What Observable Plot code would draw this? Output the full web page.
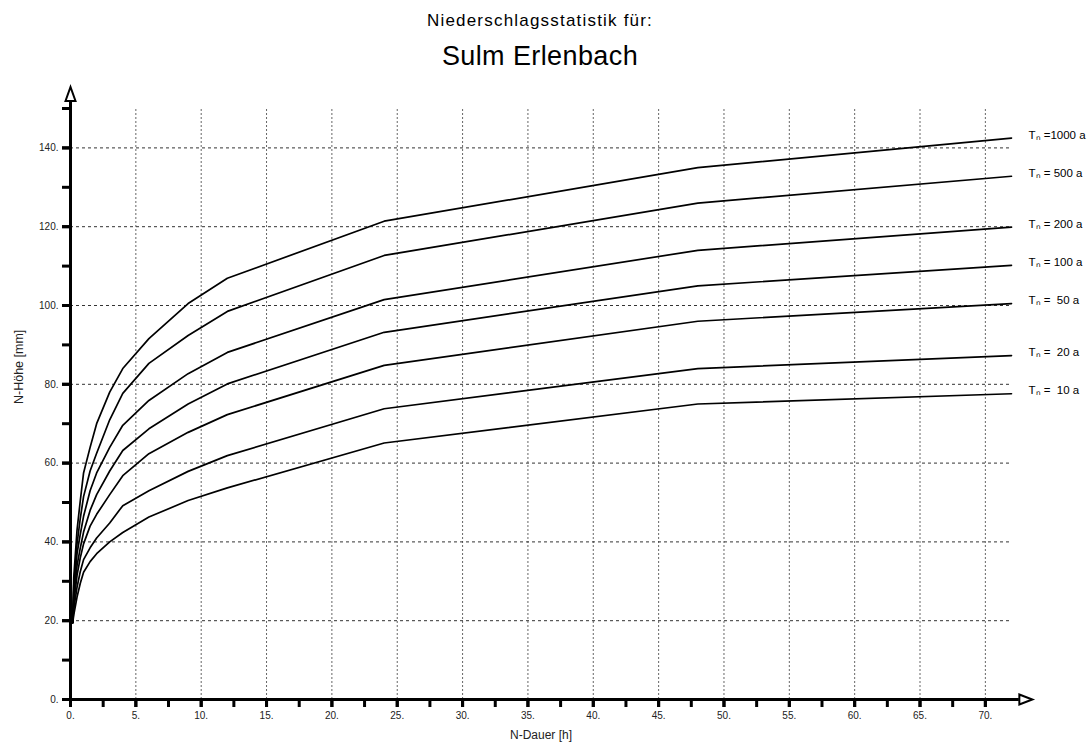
<!DOCTYPE html>
<html>
<head>
<meta charset="utf-8">
<script src="https://cdn.jsdelivr.net/npm/d3@7"></script>
<script src="https://cdn.jsdelivr.net/npm/@observablehq/plot@0.6"></script>
<style>
  html, body { margin: 0; padding: 0; background: white; }
  body { width: 1091px; height: 742px; position: relative; overflow: hidden; font-family: "Liberation Sans", Arial, sans-serif; }
  .t1 { position: absolute; top: 12px; left: 0; width: 1080px; text-align: center; font-size: 17px; line-height: 17px; letter-spacing: 1.2px; color: #000; }
  .t2 { position: absolute; top: 43px; left: 0; width: 1080px; text-align: center; font-size: 27px; line-height: 27px; letter-spacing: 0.4px; color: #000; }
  #chart { position: absolute; top: 80px; left: 0; }
  #chart svg text { white-space: pre; }
</style>
</head>
<body>
<div class="t1">Niederschlagsstatistik für:</div>
<div class="t2">Sulm Erlenbach</div>
<div id="chart"></div>
<script>
// Durations [h]
const durations = [0.17, 0.25, 0.5, 0.75, 1, 1.5, 2, 3, 4, 6, 9, 12, 24, 48, 72];
// Precipitation depth [mm] per return period
const T1000 = [19.5, 31, 43, 50.5, 57.5, 64, 70, 78, 84, 91.6, 100.5, 106.9, 121.4, 135, 142.5];
const T500  = [19.5, 29, 39.5, 46, 51.5, 58, 62.5, 71, 77.7, 85.3, 92.4, 98.5, 112.7, 126, 132.8];
const T200  = [19.5, 27.5, 37, 42, 46.5, 53, 57.5, 64, 69.6, 75.9, 82.7, 88.1, 101.5, 114, 119.9];
const T100  = [19.5, 26, 34, 38.5, 42.5, 48, 52, 58, 63.2, 68.7, 75, 80.1, 93.2, 105, 110.2];
const T50   = [19.5, 24.5, 31.5, 36, 39.5, 44, 47, 52, 56.8, 62.4, 67.8, 72.3, 84.8, 96, 100.5];
const T20   = [19.5, 23, 28.5, 32.5, 35.5, 38.5, 41, 44.8, 49.2, 53, 57.9, 61.9, 73.8, 84, 87.3];
const T10   = [19.5, 21.5, 26, 29.5, 32.3, 35, 37, 40, 42.4, 46.3, 50.5, 53.7, 65.1, 75, 77.6];

const periods = [1000, 500, 200, 100, 50, 20, 10];
const seriesValues = [T1000, T500, T200, T100, T50, T20, T10];
const seriesLabels = ["Tₙ =1000 a", "Tₙ = 500 a", "Tₙ = 200 a", "Tₙ = 100 a", "Tₙ =  50 a", "Tₙ =  20 a", "Tₙ =  10 a"];

// Axis ticks
const xMajorTicks = d3.range(0, 71, 5);
const xMinorTicks = d3.range(0, 71, 2.5);
const yMajorTicks = d3.range(0, 141, 20);
const yMinorTicks = d3.range(0, 151, 10);
const xGrid = d3.range(5, 71, 5);
const yGrid = d3.range(20, 141, 20);
const xLabel = "N-Dauer [h]";
const yLabel = "N-Höhe [mm]";

// Build tidy table
const rows = [];
periods.forEach((T, i) => {
  durations.forEach((d, j) => rows.push({T, d, v: seriesValues[i][j]}));
});
const ends = periods.map((T, i) => ({T, d: durations[durations.length - 1], v: seriesValues[i][durations.length - 1], label: seriesLabels[i]}));

const xMax = 72, xAxisEnd = 72.6, yAxisEnd = 151.9;

const triUp = { draw(ctx) { ctx.moveTo(-5, 0); ctx.lineTo(0, -14); ctx.lineTo(5, 0); ctx.closePath(); } };
const triRight = { draw(ctx) { ctx.moveTo(0, -5); ctx.lineTo(13, 0); ctx.lineTo(0, 5); ctx.closePath(); } };

const chart = Plot.plot({
  width: 1091,
  height: 662,
  marginLeft: 70,
  marginRight: 80,
  marginTop: 28,
  marginBottom: 43,
  x: {domain: [0, xMax], label: null},
  y: {domain: [0, 150], label: null},
  style: {fontFamily: "'Liberation Sans', Arial, sans-serif", background: "white", overflow: "visible", color: "black"},
  marks: [
    Plot.ruleX(xGrid, {x: d => d, y1: 0, y2: 150, stroke: "#666", strokeWidth: 1, strokeDasharray: "2,2"}),
    Plot.ruleY(yGrid, {y: d => d, x1: 0, x2: xMax, stroke: "#333", strokeWidth: 1, strokeDasharray: "3,3"}),
    Plot.line(rows, {x: "d", y: "v", z: "T", stroke: "black", strokeWidth: 1.7}),
    Plot.text(ends, {x: "d", y: "v", text: "label", textAnchor: "start", dx: 17, dy: -3, fontSize: 11.5, fill: "black"}),
    Plot.axisX({ticks: xMinorTicks, tickSize: 8, tickFormat: () => "", strokeWidth: 3, label: null}),
    Plot.axisX({ticks: xMajorTicks, tickSize: 8, tickPadding: 4, tickFormat: d => d + ".", strokeWidth: 3, fontSize: 10, fill: "#222", label: null}),
    Plot.axisY({ticks: yMinorTicks, tickSize: 8, tickFormat: () => "", strokeWidth: 3, label: null}),
    Plot.axisY({ticks: yMajorTicks, tickSize: 8, tickPadding: 4, tickFormat: d => d + ".", strokeWidth: 3, fontSize: 10, fill: "#222", label: null}),
    Plot.ruleY([0], {y: d => d, x1: 0, x2: xAxisEnd, stroke: "black", strokeWidth: 3}),
    Plot.ruleX([0], {x: d => d, y1: 0, y2: yAxisEnd, stroke: "black", strokeWidth: 3}),
    Plot.dot([0], {x: 0, y: yAxisEnd, symbol: triUp, fill: "white", stroke: "black", strokeWidth: 2}),
    Plot.dot([0], {x: xAxisEnd, y: 0, symbol: triRight, fill: "white", stroke: "black", strokeWidth: 2}),
    Plot.text([xLabel], {frameAnchor: "bottom", dy: 36, lineAnchor: "middle", fontSize: 12, fill: "#222"}),
    Plot.text([yLabel], {frameAnchor: "left", dx: -52, rotate: -90, lineAnchor: "middle", fontSize: 12.5, fill: "#222"})
  ]
});
document.getElementById("chart").appendChild(chart);
</script>
</body>
</html>
